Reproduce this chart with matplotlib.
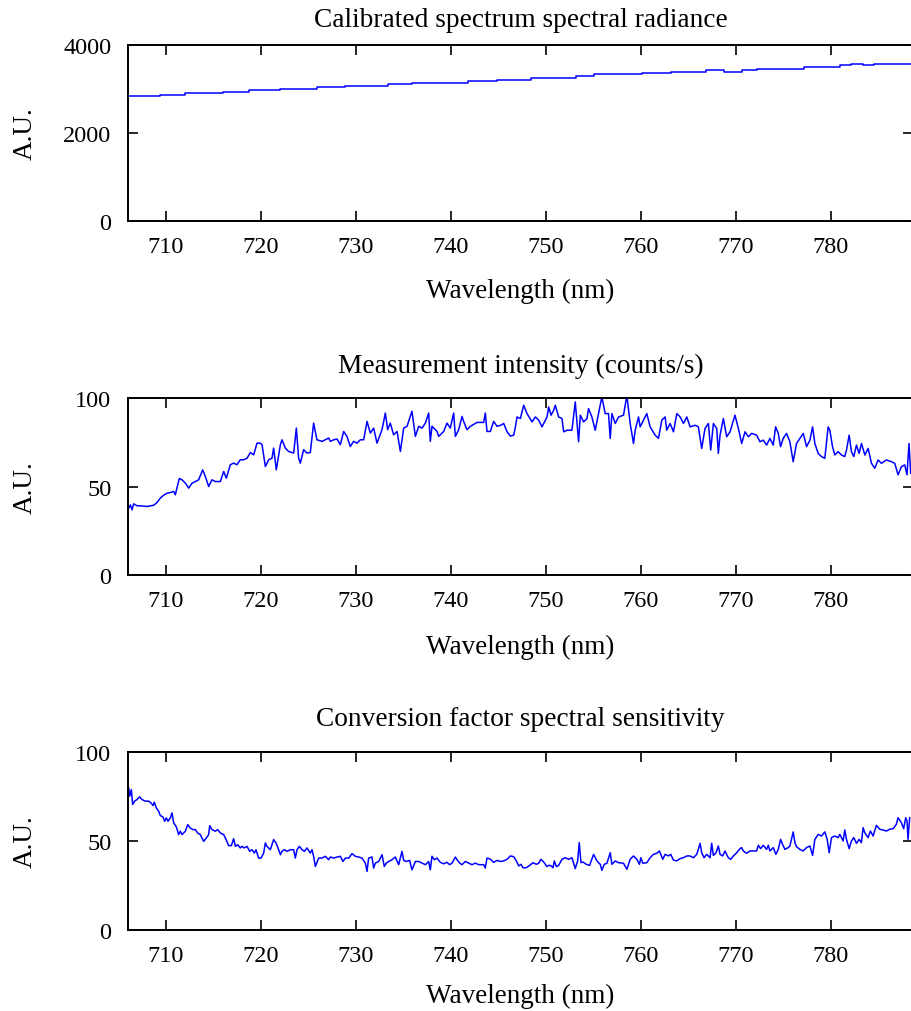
import matplotlib
matplotlib.use("Agg")
import matplotlib.pyplot as plt

# calibrated spectral radiance (stepped)
rad_wl = [706.0, 709.4, 712.0, 716.0, 718.7, 722.0, 725.9, 728.8, 733.4, 735.9,
          741.8, 744.8, 748.4, 753.2, 755.0, 760.1, 763.2, 766.8, 768.7, 770.6,
          772.2, 777.2, 781.0, 782.1, 783.4, 784.5, 789.0]
rad_val = [2830, 2866, 2900, 2940, 2975, 3010, 3042, 3075, 3120, 3147,
           3179, 3215, 3253, 3295, 3330, 3360, 3396, 3434, 3389, 3434,
           3464, 3502, 3541, 3577, 3541, 3577, 3577]

# measurement intensity (counts/s)
meas_wl = [706.07, 706.25, 706.42, 706.60, 706.95, 707.30, 708.00, 708.70, 709.05, 709.40,
           709.75, 710.11, 710.46, 710.81, 710.98, 711.40, 711.68, 712.04, 712.39, 712.74,
           713.09, 713.44, 713.86, 714.14, 714.49, 714.84, 715.19, 715.72, 716.07, 716.35,
           716.77, 717.12, 717.47, 717.82, 718.18, 718.53, 718.88, 719.23, 719.58, 719.93,
           720.11, 720.46, 720.81, 721.16, 721.33, 721.61, 722.04, 722.21, 722.56, 722.91,
           723.44, 723.72, 723.96, 724.14, 724.49, 724.84, 725.19, 725.54, 725.89, 726.42,
           726.77, 727.12, 727.30, 727.65, 728.00, 728.35, 728.70, 729.05, 729.40, 729.75,
           730.11, 730.46, 730.81, 731.16, 731.51, 731.86, 732.21, 732.74, 733.09, 733.33,
           733.61, 733.96, 734.32, 734.67, 735.02, 735.37, 735.89, 736.25, 736.60, 736.95,
           737.30, 737.65, 737.82, 738.00, 738.53, 738.70, 739.23, 739.58, 739.93, 740.28,
           740.46, 740.81, 741.16, 741.33, 741.68, 742.04, 742.74, 743.44, 743.61, 743.79,
           744.14, 744.49, 744.84, 745.19,
           745.55, 745.90, 746.25, 746.60, 746.78, 746.95, 747.30, 747.65, 748.00, 748.53,
           748.88, 749.23, 749.58, 750.11, 750.28, 750.53, 750.81, 750.98, 751.33, 751.68,
           751.86, 752.21, 752.73, 753.08, 753.43, 753.61, 753.96, 754.31, 754.48, 754.83,
           755.18, 755.53, 755.88, 756.23, 756.58, 756.76, 756.94, 757.29, 757.64, 758.16,
           758.51, 758.86, 759.21, 759.39, 759.74, 759.91, 760.26, 760.61, 760.96, 761.49,
           761.84, 762.19, 762.54, 762.71, 763.06, 763.42, 763.77, 764.12, 764.47, 764.82,
           765.17, 765.69, 766.04, 766.39, 766.74, 767.09, 767.34, 767.62, 767.97, 768.14,
           768.32, 768.67, 769.02, 769.37, 769.89, 770.25, 770.60, 770.95, 771.30, 771.65,
           772.17, 772.52, 772.87, 773.22, 773.57, 773.92, 774.17, 774.45, 774.69, 774.97,
           775.32, 775.67, 776.02, 776.37, 776.73, 777.08, 777.43, 777.78, 778.06, 778.30,
           778.65, 779.00, 779.35, 779.70, 779.88, 780.16, 780.40, 780.75, 781.10, 781.45,
           781.63, 781.91, 782.15, 782.40, 782.68, 782.96, 783.21, 783.56, 783.91, 784.26,
           784.61, 784.96, 785.31, 785.83, 786.36, 786.71, 787.06, 787.41, 787.76, 788.00,
           788.21, 788.39]
meas_val = [37.7, 39.6, 36.8, 40.2, 39.1, 39.1, 38.7, 39.4, 40.9, 43.4,
            45.1, 46.2, 46.6, 47.2, 45.3, 54.5, 53.8, 51.9, 49.1, 51.9,
            52.8, 53.8, 59.4, 55.7, 50.0, 53.8, 52.8, 52.8, 58.5, 54.7,
            62.3, 63.2, 62.3, 65.1, 65.1, 66.0, 69.2, 67.9, 74.5, 74.5,
            73.6, 61.3, 65.1, 66.0, 71.7, 59.4, 73.6, 76.4, 71.7, 69.8,
            68.9, 83.0, 66.0, 63.2, 70.8, 68.9, 69.2, 85.8, 76.4, 75.5,
            76.4, 77.4, 75.5, 76.4, 76.8, 73.6, 81.1, 78.3, 72.6, 75.5,
            74.5, 76.4, 76.4, 86.8, 80.2, 83.0, 74.5, 82.1, 91.5, 82.1,
            85.8, 79.2, 81.1, 69.8, 83.0, 84.0, 92.5, 78.3, 84.0, 83.0,
            85.8, 91.5, 75.5, 84.0, 81.1, 78.3, 81.1, 85.8, 83.0, 91.5,
            78.3, 82.1, 89.6, 86.8, 82.1, 84.0, 86.2, 86.2, 91.5, 81.1,
            81.1, 86.8, 84.0, 84.5,
            85.6, 80.9, 78.5, 79.0, 83.7, 89.3, 88.4, 95.9, 91.2, 86.5,
            89.3, 87.5, 83.7, 89.3, 94.9, 90.3, 93.1, 95.9, 89.3, 88.4,
            80.9, 81.8, 81.8, 97.8, 75.3, 90.3, 86.5, 88.4, 94.0, 89.3,
            81.8, 91.2, 100.6, 91.2, 91.2, 77.2, 91.2, 85.6, 89.3, 90.3,
            101.5, 85.6, 74.3, 81.8, 89.3, 83.7, 87.5, 91.2, 83.7, 79.0,
            77.2, 87.5, 89.3, 81.8, 85.6, 80.9, 91.2, 89.3, 85.6, 89.3,
            83.7, 84.6, 83.7, 71.5, 82.8, 85.6, 70.6, 85.6, 82.8, 68.7,
            79.0, 88.4, 78.1, 80.9, 90.3, 82.8, 74.3, 80.9, 78.1, 80.0,
            79.0, 75.3, 76.2, 73.4, 77.2, 73.4, 83.7, 80.0, 72.5, 77.2,
            80.0, 75.3, 64.0, 74.3, 77.2, 80.0, 72.5, 76.2, 83.7, 74.3,
            68.7, 66.9, 65.9, 83.7, 81.8, 72.5, 67.8, 69.7, 67.8, 66.9,
            70.6, 79.0, 69.7, 66.9, 73.4, 68.7, 74.3, 67.8, 71.5, 63.1,
            60.3, 65.0, 63.1, 65.0, 64.0, 63.1, 56.6, 61.2, 62.2, 56.6,
            74.3, 57.5]

# conversion factor spectral sensitivity
conv_wl = [706.07, 706.18, 706.35, 706.49, 706.70, 706.95, 707.23, 707.47, 707.82, 708.18,
           708.42, 708.63, 708.77, 708.98, 709.23, 709.40, 709.68, 709.86, 710.04, 710.21,
           710.46, 710.63, 710.81, 711.09, 711.33, 711.51, 711.68, 712.04, 712.28, 712.56,
           712.84, 713.09, 713.33, 713.61, 713.96, 714.25, 714.49, 714.60, 714.84, 715.19,
           715.44, 715.72, 716.07, 716.25, 716.60, 716.88, 717.12, 717.30, 717.54, 717.82,
           718.00, 718.25, 718.53, 718.81, 719.05, 719.30, 719.47, 719.75, 720.00, 720.28,
           720.46, 720.63, 720.98, 721.33, 721.58, 721.86, 722.04, 722.21, 722.46, 722.74,
           723.09, 723.44, 723.61, 723.79, 724.04, 724.32, 724.56, 724.84, 725.19, 725.37,
           725.54, 725.72, 726.07, 726.42, 726.77, 727.12, 727.30, 727.65, 728.00, 728.35,
           728.63, 728.88, 729.23, 729.58, 729.93, 730.28, 730.63, 730.98, 731.16, 731.33,
           731.68, 731.86, 732.04, 732.39, 732.74, 732.98, 733.19, 733.44, 733.79, 734.14,
           734.49, 734.84, 735.02, 735.30, 735.65, 735.89, 736.25, 736.60, 736.95, 737.30,
           737.65, 737.82, 738.00, 738.25, 738.53, 738.88, 739.23, 739.58, 739.86, 740.11,
           740.46, 740.63, 740.91, 741.16, 741.51, 741.86, 742.21, 742.56, 742.91, 743.44,
           743.61, 743.79, 744.14, 744.49, 744.84, 745.19,
           745.55, 745.90, 746.25, 746.60, 746.88, 747.13, 747.37, 747.58, 747.93, 748.28,
           748.63, 748.98, 749.23, 749.47, 749.75, 750.11, 750.28, 750.46, 750.74, 750.88,
           751.09, 751.33, 751.68, 752.03, 752.38, 752.73, 753.08, 753.33, 753.50, 753.68,
           753.89, 754.24, 754.59, 755.01, 755.36, 755.71, 755.88, 756.13, 756.41, 756.76,
           756.94, 757.29, 757.64, 758.16, 758.51, 758.86, 759.21, 759.56, 759.84, 759.98,
           760.19, 760.61, 760.96, 761.31, 761.66, 761.94, 762.29, 762.54, 762.89, 763.13,
           763.41, 763.76, 764.11, 764.47, 764.82, 765.17, 765.52, 765.87, 766.22, 766.39,
           766.64, 766.92, 767.27, 767.44, 767.62, 767.90, 768.14, 768.32, 768.60, 768.84,
           769.19, 769.44, 769.72, 770.07, 770.42, 770.59, 770.77, 771.12, 771.47, 771.82,
           772.17, 772.35, 772.59, 772.87, 773.22, 773.40, 773.57, 773.92, 774.20, 774.45,
           774.69, 774.90, 775.15, 775.50, 775.67, 776.02, 776.20, 776.37, 776.72, 777.07,
           777.42, 777.78, 778.06, 778.30, 778.65, 779.00, 779.35, 779.60, 779.81, 780.05,
           780.40, 780.75, 780.93, 781.28, 781.45, 781.63, 781.91, 782.15, 782.40, 782.68,
           782.96, 783.20, 783.38, 783.55, 783.90, 784.15, 784.43, 784.78, 785.13, 785.48,
           785.83, 786.18, 786.53, 786.88, 787.06, 787.41, 787.65, 787.86, 788.00, 788.11,
           788.28]
conv_val = [79.9, 75.2, 78.9, 70.5, 72.4, 73.3, 74.8, 73.3, 72.4, 72.4,
            71.4, 69.9, 71.8, 68.6, 66.7, 64.3, 63.5, 61.1, 63.0, 61.1,
            63.0, 65.8, 60.2, 57.9, 53.6, 55.5, 53.6, 55.5, 59.2, 57.3,
            56.4, 56.4, 54.5, 53.6, 49.8, 51.7, 53.6, 58.6, 56.4, 55.5,
            56.4, 54.5, 53.6, 51.7, 47.4, 47.4, 51.3, 47.0, 47.9, 46.1,
            47.0, 46.1, 47.0, 44.2, 45.1, 43.2, 45.1, 40.4, 40.4, 43.2,
            48.9, 47.0, 45.1, 50.8, 48.9, 45.1, 42.3, 44.2, 45.1, 44.2,
            45.1, 45.1, 40.4, 45.1, 47.0, 45.1, 44.2, 46.1, 43.2, 45.1,
            41.4, 35.7, 40.4, 40.4, 41.4, 39.5, 41.0, 40.4, 41.0, 41.4,
            38.5, 40.4, 40.4, 42.9, 41.4, 41.0, 40.4, 37.6, 32.9, 40.4,
            41.0, 34.8, 37.6, 38.5, 42.3, 35.7, 37.6, 38.5, 39.5, 41.0,
            36.7, 44.2, 39.1, 38.5, 39.1, 33.8, 38.5, 38.5, 37.6, 36.7,
            38.5, 33.8, 41.4, 39.5, 40.4, 38.0, 37.2, 38.0, 36.7, 37.6,
            41.0, 39.5, 37.6, 36.7, 38.5, 37.6, 36.7, 37.6, 36.7, 36.7,
            34.8, 40.4, 39.8, 38.0, 39.1, 38.5,
            38.8, 39.7, 41.6, 41.2, 38.8, 36.0, 36.9, 35.0, 35.0, 36.3,
            37.8, 36.9, 37.5, 39.7, 38.2, 35.6, 36.3, 36.3, 35.0, 38.8,
            35.6, 36.3, 39.7, 40.6, 39.7, 40.6, 34.5, 38.8, 49.1, 37.8,
            38.2, 36.9, 36.3, 42.5, 38.8, 36.9, 33.5, 36.9, 37.5, 43.4,
            36.9, 38.8, 37.8, 37.5, 34.1, 39.7, 41.6, 39.7, 36.9, 40.6,
            37.5, 37.8, 40.6, 42.5, 43.1, 44.4, 39.7, 42.5, 41.6, 42.5,
            39.3, 38.8, 40.1, 40.6, 41.6, 41.6, 40.6, 42.5, 48.7, 43.4,
            40.6, 42.5, 40.6, 48.7, 41.9, 43.4, 47.2, 42.5, 41.6, 44.4,
            40.6, 39.7, 41.6, 43.4, 45.7, 46.3, 44.4, 43.1, 44.4, 44.4,
            44.4, 47.6, 45.7, 47.6, 45.3, 47.6, 44.4, 46.3, 42.5, 45.3,
            50.9, 48.1, 45.3, 46.3, 47.2, 55.1, 49.1, 46.8, 45.3, 44.4,
            46.3, 47.2, 41.9, 50.9, 53.7, 52.8, 55.1, 50.9, 43.4, 51.9,
            52.8, 51.9, 53.7, 50.0, 56.2, 50.9, 45.7, 50.0, 51.9, 48.7,
            50.9, 49.1, 57.5, 54.7, 51.9, 55.6, 52.8, 58.8, 56.6, 56.2,
            55.6, 56.6, 56.9, 59.4, 63.1, 60.3, 56.9, 63.1, 61.2, 50.9,
            63.1]

titles = ["Calibrated spectrum spectral radiance",
          "Measurement intensity (counts/s)",
          "Conversion factor spectral sensitivity"]
x_ticks = [710, 720, 730, 740, 750, 760, 770, 780]
y_ticks = [[0, 2000, 4000], [0, 50, 100], [0, 50, 100]]
y_lims = [(0, 4000), (0, 100), (0, 100)]

plt.rcParams['font.family'] = ['Liberation Serif', 'DejaVu Serif']

fig = plt.figure(figsize=(9.11, 10.12), dpi=100)

# axes boxes (pixels -> figure fractions)
# right edge sits just past the image border, like in the original
W, H = 911.0, 1012.0
left, right = 128.0, 913.0
boxes = [(46, 222), (399, 576), (753, 931)]
axes = []
for top, bot in boxes:
    ax = fig.add_axes([left / W, 1 - bot / H, (right - left) / W, (bot - top) / H])
    axes.append(ax)

axes[0].plot(rad_wl, rad_val, color='#0000ff', lw=1.1, drawstyle='steps-post')
axes[1].plot(meas_wl, meas_val, color='#0000ff', lw=1.1)
axes[2].plot(conv_wl, conv_val, color='#0000ff', lw=1.1)

title_pads = [14, 19, 19.5]
xlabel_y = [-0.395, -0.405, -0.37]
for i, ax in enumerate(axes):
    ax.set_xlim(706.0, 706.0 + (right - left) / 9.5)
    ax.set_ylim(*y_lims[i])
    ax.set_xticks(x_ticks)
    ax.set_yticks(y_ticks[i])
    ax.tick_params(direction='in', length=7, width=1.2, top=True, right=True,
                   labelsize=17.5)
    ax.tick_params(axis='x', pad=11)
    ax.tick_params(axis='y', pad=12)
    for s in ax.spines.values():
        s.set_linewidth(1.4)
    ax.set_title(titles[i], fontsize=19.7, pad=title_pads[i])
    ax.set_xlabel("Wavelength (nm)", fontsize=19.5)
    ax.set_ylabel("A.U.", fontsize=19.5)
    ax.xaxis.set_label_coords(0.5, xlabel_y[i])
    ax.xaxis.label.set_va('center')
    ax.yaxis.set_label_coords(-0.1315, 0.5)
    ax.yaxis.label.set_va('center')

fig.savefig("out.png", dpi=100)
